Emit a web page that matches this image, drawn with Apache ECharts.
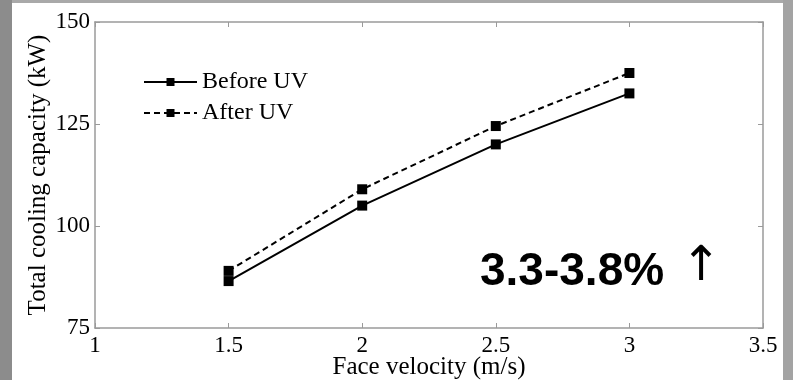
<!DOCTYPE html>
<html>
<head>
<meta charset="utf-8">
<script src="https://cdn.jsdelivr.net/npm/echarts@6/dist/echarts.min.js"></script>
<style>
  html, body { margin: 0; padding: 0; background: #fff; }
  #chart { width: 793px; height: 380px; }
</style>
</head>
<body>
<div id="chart"></div>
<script>
// values
var faceVelocity = [1.5, 2, 2.5, 3]
var beforeUV = [86.5, 105, 120, 132.5]
var afterUV = [89, 109, 124.5, 137.5]
var seriesNames = ['Before UV', 'After UV']

var serif = 'Liberation Serif, Times New Roman, serif'
var axisGrey = '#9a9a9a'

function pairs (xs, ys) {
  var out = []
  for (var i = 0; i < xs.length; i++) out.push([xs[i], ys[i]])
  return out
}

var chart = echarts.init(document.getElementById('chart'))

var hiddenAxis = {
  axisLine: { show: true, lineStyle: { color: axisGrey, width: 1.5 } },
  axisTick: { show: true, inside: true, length: 5, lineStyle: { color: axisGrey } },
  axisLabel: { show: false },
  splitLine: { show: false }
}

var opt = {
  backgroundColor: '#fff',
  animation: false,
  graphic: [
    // grey frame around the slide
    { type: 'rect', shape: { x: 0, y: 0, width: 793, height: 3 }, style: { fill: '#a9a9a9' } },
    { type: 'rect', shape: { x: 0, y: 0, width: 12, height: 380 }, style: { fill: '#8c8c8c' } },
    { type: 'rect', shape: { x: 783, y: 0, width: 10, height: 380 }, style: { fill: '#a3a3a3' } },
    {
      type: 'text',
      left: 480,
      top: 249,
      style: {
        text: '3.3-3.8% ',
        font: 'bold 46px Liberation Sans, Arial, sans-serif',
        fill: '#000'
      }
    },
    {
      type: 'text',
      left: 681,
      top: 244,
      style: {
        text: '↑',
        font: '48px DejaVu Sans, sans-serif',
        fill: '#000'
      }
    }
  ],
  grid: { left: 95, right: 30, top: 22, bottom: 52, outerBoundsMode: 'none', containLabel: false },
  legend: {
    orient: 'vertical',
    left: 138,
    top: 65,
    itemWidth: 53,
    itemHeight: 10,
    itemGap: 7,
    textStyle: { fontFamily: serif, fontSize: 24, color: '#000' },
    data: seriesNames
  },
  xAxis: [
    {
      type: 'value',
      min: 1,
      max: 3.5,
      interval: 0.5,
      name: 'Face velocity (m/s)',
      nameLocation: 'middle',
      nameGap: 27,
      nameMoveOverlap: false,
      nameTextStyle: { fontFamily: serif, fontSize: 25, color: '#000' },
      axisLine: { show: true, lineStyle: { color: axisGrey, width: 1.5 } },
      axisTick: { show: true, inside: true, length: 5, lineStyle: { color: axisGrey } },
      axisLabel: { fontFamily: serif, fontSize: 23, color: '#000', margin: 6 },
      splitLine: { show: false }
    },
    Object.assign({ type: 'value', position: 'top', min: 1, max: 3.5, interval: 0.5 }, hiddenAxis)
  ],
  yAxis: [
    {
      type: 'value',
      min: 75,
      max: 150,
      interval: 25,
      name: 'Total cooling capacity (kW)',
      nameLocation: 'middle',
      nameGap: 44,
      nameMoveOverlap: false,
      nameTextStyle: { fontFamily: serif, fontSize: 25, color: '#000' },
      axisLine: { show: true, lineStyle: { color: axisGrey, width: 1.5 } },
      axisTick: { show: true, inside: true, length: 5, lineStyle: { color: axisGrey } },
      axisLabel: { fontFamily: serif, fontSize: 23, color: '#000', margin: 5 },
      splitLine: { show: false }
    },
    Object.assign({ type: 'value', position: 'right', min: 75, max: 150, interval: 25 }, hiddenAxis)
  ],
  series: [
    {
      name: seriesNames[0],
      type: 'line',
      data: pairs(faceVelocity, beforeUV),
      symbol: 'rect',
      symbolSize: 10,
      itemStyle: { color: '#000' },
      lineStyle: { color: '#000', width: 2, type: 'solid' }
    },
    {
      name: seriesNames[1],
      type: 'line',
      data: pairs(faceVelocity, afterUV),
      symbol: 'rect',
      symbolSize: 10,
      itemStyle: { color: '#000' },
      lineStyle: { color: '#000', width: 2, type: [6, 4] }
    }
  ]
}

chart.setOption(opt)
</script>
</body>
</html>
